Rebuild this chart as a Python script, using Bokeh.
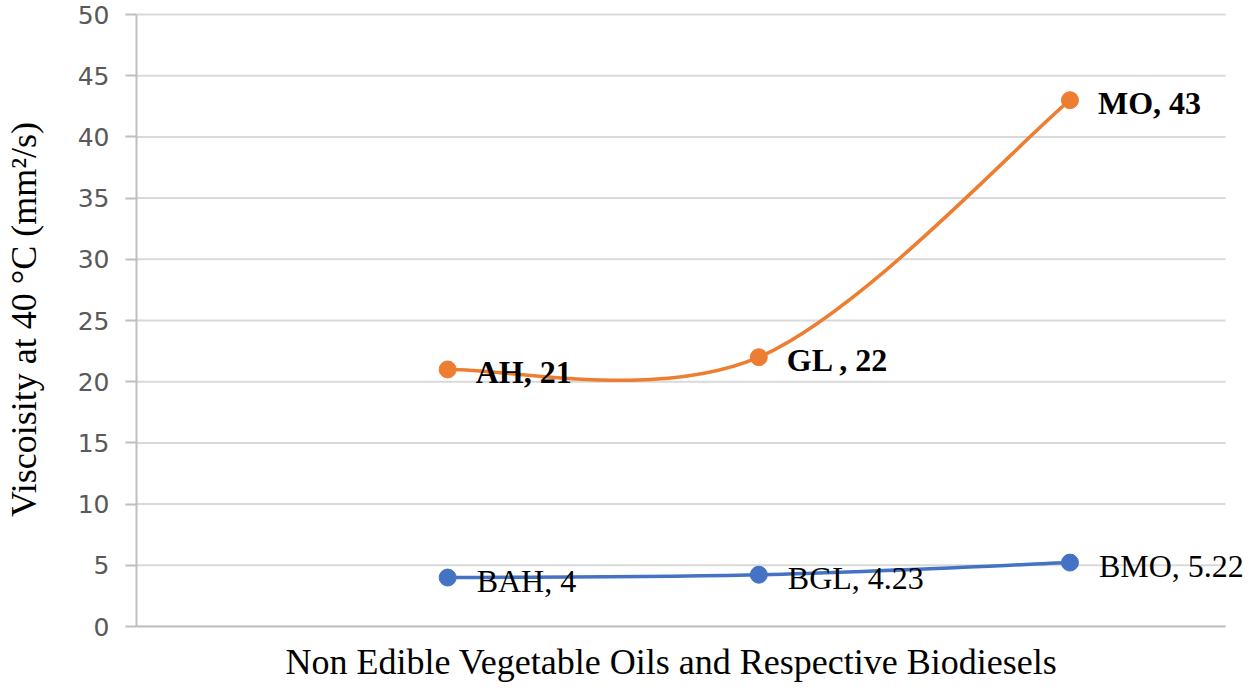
import numpy as np
from bokeh.plotting import figure
from bokeh.models import ColumnDataSource, LabelSet, FixedTicker, Range1d, Title
from bokeh.embed import file_html
from bokeh.resources import INLINE

# ---- data ----
oils = ["AH", "GL ", "MO"]
biodiesels = ["BAH", "BGL", "BMO"]
oil_viscosity = [21, 22, 43]
biodiesel_viscosity = [4, 4.23, 5.22]
positions = [1, 2, 3]
y_ticks = [0, 5, 10, 15, 20, 25, 30, 35, 40, 45, 50]
X_MAX = 3.5          # right end of the plot area (in category units)
Y_MAX = 50
x_title = "Non Edible Vegetable Oils and Respective Biodiesels"
y_title = "Viscoisity at 40 °C (mm²/s)"

ORANGE = "#ED7D31"
BLUE = "#4472C4"
GRID = "#d9d9d9"
AXIS = "#bfbfbf"

# ---- layout (pixels) ----
W, H = 1250, 695
LEFT, RIGHT_PLOT, RIGHT_FIG = 134, 1225, 1250
TOP_FRAME, TOP_50, BOTTOM = 12, 14, 626
x_end = X_MAX * (RIGHT_FIG - LEFT) / (RIGHT_PLOT - LEFT)
y_end = Y_MAX * (BOTTOM - TOP_FRAME) / (BOTTOM - TOP_50)


def smooth_segments(xs, ys):
    """Excel-like smoothed line: cubic Bezier control points from neighbours."""
    xs = np.asarray(xs, float)
    ys = np.asarray(ys, float)
    n = len(xs)
    px = np.concatenate([[xs[0]], xs, [xs[-1]]])
    py = np.concatenate([[ys[0]], ys, [ys[-1]]])
    return dict(
        x0=xs[:-1], y0=ys[:-1], x1=xs[1:], y1=ys[1:],
        cx0=xs[:-1] + (px[2:n + 1] - px[0:n - 1]) / 6,
        cy0=ys[:-1] + (py[2:n + 1] - py[0:n - 1]) / 6,
        cx1=xs[1:] - (px[3:n + 2] - px[1:n]) / 6,
        cy1=ys[1:] - (py[3:n + 2] - py[1:n]) / 6,
    )


def fmt(v):
    return f"{v:g}"


oil_src = ColumnDataSource(dict(
    x=positions, y=oil_viscosity,
    label=[f"{n}, {fmt(v)}" for n, v in zip(oils, oil_viscosity)]))
bio_src = ColumnDataSource(dict(
    x=positions, y=biodiesel_viscosity,
    label=[f"{n}, {fmt(v)}" for n, v in zip(biodiesels, biodiesel_viscosity)]))

p = figure(width=W, height=H, output_backend="svg", toolbar_location=None,
           x_range=Range1d(0, x_end), y_range=Range1d(0, y_end),
           min_border_left=LEFT, min_border_right=0,
           min_border_top=TOP_FRAME, min_border_bottom=H - BOTTOM)
p.outline_line_color = None
p.background_fill_color = "white"
p.border_fill_color = "white"

# grid (drawn as segments so it stops at the plot area's right end)
p.xgrid.visible = False
p.ygrid.visible = False
p.segment(x0=[0] * len(y_ticks), x1=[X_MAX] * len(y_ticks), y0=y_ticks, y1=y_ticks,
          line_color=GRID, line_width=2, level="underlay")

# y axis
p.yaxis.ticker = FixedTicker(ticks=y_ticks)
p.yaxis.bounds = (0, Y_MAX)
p.yaxis.minor_tick_line_color = None
p.yaxis.axis_line_color = AXIS
p.yaxis.axis_line_width = 2
p.yaxis.major_tick_line_color = AXIS
p.yaxis.major_tick_line_width = 2
p.yaxis.major_tick_in = 0
p.yaxis.major_tick_out = 11
p.yaxis.major_label_standoff = 16
p.yaxis.major_label_text_font = "DejaVu Sans"
p.yaxis.major_label_text_font_size = "25px"
p.yaxis.major_label_text_color = "#595959"
p.yaxis.axis_label = y_title
p.yaxis.axis_label_text_font = "Liberation Serif"
p.yaxis.axis_label_text_font_size = "36px"
p.yaxis.axis_label_text_font_style = "normal"
p.yaxis.axis_label_text_color = "black"
p.yaxis.axis_label_standoff = 31

# x axis
p.xaxis.ticker = FixedTicker(ticks=[])
p.xaxis.bounds = (0, X_MAX)
p.xaxis.minor_tick_line_color = None
p.xaxis.major_tick_line_color = None
p.xaxis.major_label_text_font_size = "0px"
p.xaxis.axis_line_color = AXIS
p.xaxis.axis_line_width = 2

# x title
p.add_layout(Title(text=x_title, align="left", offset=149, standoff=26,
                   text_font="Liberation Serif", text_font_size="36px",
                   text_font_style="normal", text_color="black"), "below")

# smoothed lines
p.bezier(source=ColumnDataSource(smooth_segments(positions, oil_viscosity)),
         x0="x0", y0="y0", x1="x1", y1="y1", cx0="cx0", cy0="cy0",
         cx1="cx1", cy1="cy1", line_color=ORANGE, line_width=3.5)
p.bezier(source=ColumnDataSource(smooth_segments(positions, biodiesel_viscosity)),
         x0="x0", y0="y0", x1="x1", y1="y1", cx0="cx0", cy0="cy0",
         cx1="cx1", cy1="cy1", line_color=BLUE, line_width=3.5)

p.scatter("x", "y", source=oil_src, size=17, fill_color=ORANGE, line_color=ORANGE)
p.scatter("x", "y", source=bio_src, size=17, fill_color=BLUE, line_color=BLUE)

p.add_layout(LabelSet(x="x", y="y", text="label", source=oil_src,
                      x_offset=28, y_offset=-3, text_baseline="middle",
                      text_font="Liberation Serif", text_font_size="32px",
                      text_font_style="bold", text_color="black"))
p.add_layout(LabelSet(x="x", y="y", text="label", source=bio_src,
                      x_offset=29, y_offset=-3, text_baseline="middle",
                      text_font="Liberation Serif", text_font_size="32px",
                      text_font_style="normal", text_color="black"))

open("out.html", "w").write(file_html(p, INLINE))
